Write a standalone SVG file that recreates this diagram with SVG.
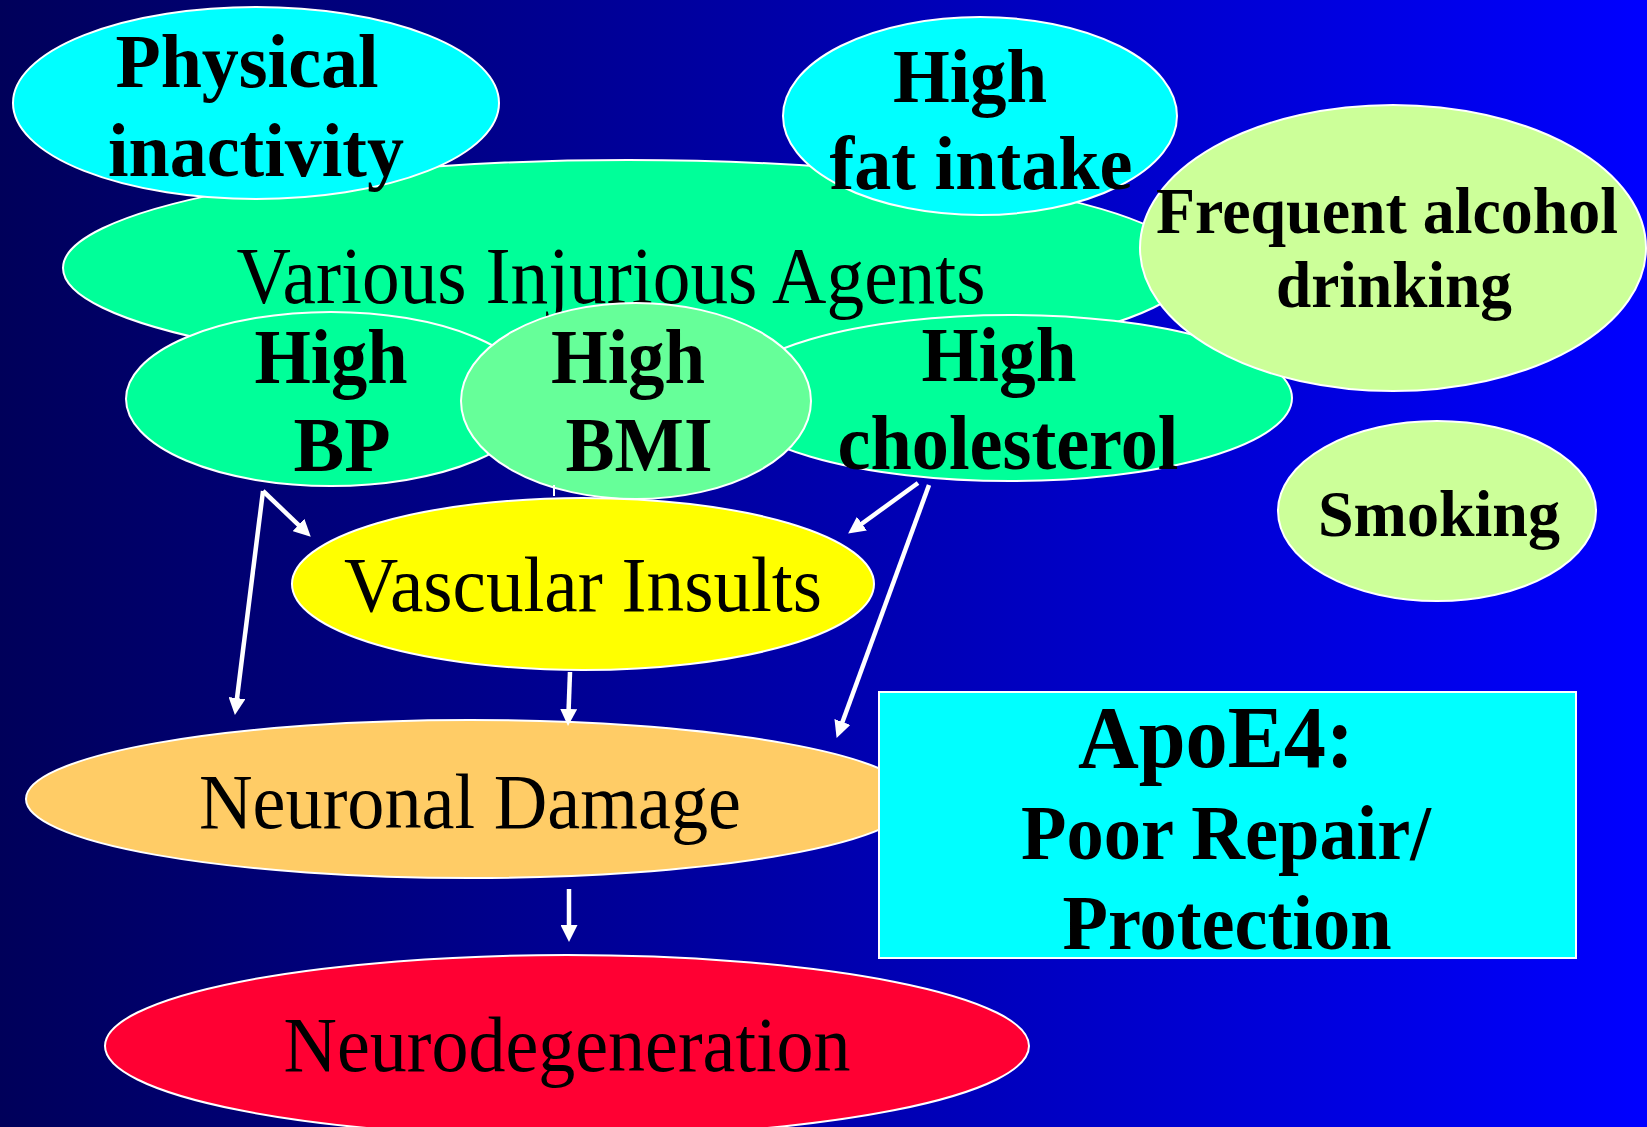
<svg xmlns="http://www.w3.org/2000/svg" width="1647" height="1127" viewBox="0 0 1647 1127">
<defs>
<linearGradient id="bg" x1="0" y1="0" x2="1" y2="0">
<stop offset="0" stop-color="#00005A"/>
<stop offset="1" stop-color="#0000FF"/>
</linearGradient>
<marker id="ah" markerUnits="userSpaceOnUse" markerWidth="17" markerHeight="17" refX="1" refY="8.5" orient="auto">
<path d="M0,0 L17,8.5 L0,17 z" fill="#FFFFFF"/>
</marker>
<style>
.n{stroke:#FFFFFF;stroke-width:2}
.b{font-family:"Liberation Serif","Times New Roman",serif;font-weight:bold;fill:#000;text-anchor:middle}
.r{font-family:"Liberation Serif","Times New Roman",serif;fill:#000;text-anchor:middle}
.c{stroke:#FFFFFF;stroke-width:4.5;fill:none;marker-end:url(#ah)}
</style>
</defs>
<rect x="0" y="0" width="1647" height="1127" fill="url(#bg)"/>

<g id="various">
<ellipse class="n" cx="628" cy="268" rx="565" ry="108" fill="#00FF99"/>
<text class="r" x="611" y="303" font-size="80" textLength="749" lengthAdjust="spacingAndGlyphs">Various Injurious Agents</text>
</g>
<g id="physical">
<ellipse class="n" cx="256" cy="103" rx="243" ry="96" fill="#00FFFF"/>
<text class="b" x="247" y="87" font-size="76" textLength="263" lengthAdjust="spacingAndGlyphs">Physical</text>
<text class="b" x="256" y="176" font-size="76" textLength="296" lengthAdjust="spacingAndGlyphs">inactivity</text>
</g>
<g id="fat">
<ellipse class="n" cx="980" cy="116" rx="197" ry="99" fill="#00FFFF"/>
<text class="b" x="970" y="102" font-size="76" textLength="154" lengthAdjust="spacingAndGlyphs">High</text>
<text class="b" x="981" y="189" font-size="76" textLength="303" lengthAdjust="spacingAndGlyphs">fat intake</text>
</g>
<g id="bp">
<ellipse class="n" cx="331" cy="399" rx="205" ry="87" fill="#00FF99"/>
<text class="b" x="331" y="383" font-size="78" textLength="153" lengthAdjust="spacingAndGlyphs">High</text>
<text class="b" x="342" y="471" font-size="78" textLength="97" lengthAdjust="spacingAndGlyphs">BP</text>
</g>
<g id="cholesterol">
<ellipse class="n" cx="1010" cy="398" rx="282" ry="83" fill="#00FF99"/>
<text class="b" x="999" y="381" font-size="78" textLength="155" lengthAdjust="spacingAndGlyphs">High</text>
<text class="b" x="1008" y="469" font-size="78" textLength="341" lengthAdjust="spacingAndGlyphs">cholesterol</text>
</g>
<g id="bmi">
<ellipse class="n" cx="636" cy="401" rx="175" ry="98" fill="#66FF99"/>
<text class="b" x="628" y="383" font-size="78" textLength="154" lengthAdjust="spacingAndGlyphs">High</text>
<text class="b" x="639" y="471" font-size="78" textLength="147" lengthAdjust="spacingAndGlyphs">BMI</text>
</g>
<g id="alcohol">
<ellipse class="n" cx="1393" cy="248" rx="253" ry="143" fill="#CCFF99"/>
<text class="b" x="1387" y="233" font-size="65" textLength="462" lengthAdjust="spacingAndGlyphs">Frequent alcohol</text>
<text class="b" x="1394" y="307" font-size="65" textLength="236" lengthAdjust="spacingAndGlyphs">drinking</text>
</g>
<g id="smoking">
<ellipse class="n" cx="1437" cy="511" rx="159" ry="90" fill="#CCFF99"/>
<text class="b" x="1439" y="536" font-size="65" textLength="242" lengthAdjust="spacingAndGlyphs">Smoking</text>
</g>
<g id="vascular">
<ellipse class="n" cx="583" cy="584" rx="291" ry="86" fill="#FFFF00"/>
<text class="r" x="583" y="611" font-size="78" textLength="478" lengthAdjust="spacingAndGlyphs">Vascular Insults</text>
</g>
<g id="neuronal">
<ellipse class="n" cx="470" cy="799" rx="444" ry="79" fill="#FFCC66"/>
<text class="r" x="470" y="828" font-size="78" textLength="542" lengthAdjust="spacingAndGlyphs">Neuronal Damage</text>
</g>
<g id="apoe4">
<rect class="n" x="879" y="692" width="697" height="266" fill="#00FFFF"/>
<text class="b" x="1216" y="767" font-size="88" textLength="276" lengthAdjust="spacingAndGlyphs">ApoE4:</text>
<text class="b" x="1226" y="859" font-size="78" textLength="410" lengthAdjust="spacingAndGlyphs">Poor Repair/</text>
<text class="b" x="1227" y="949" font-size="78" textLength="329" lengthAdjust="spacingAndGlyphs">Protection</text>
</g>
<g id="neurodegeneration">
<ellipse class="n" cx="567" cy="1046" rx="462" ry="91" fill="#FF0033"/>
<text class="r" x="567" y="1071" font-size="78" textLength="567" lengthAdjust="spacingAndGlyphs">Neurodegeneration</text>
</g>

<g id="connectors">
<line class="c" x1="263" y1="491" x2="236.9" y2="699.1"/>
<line class="c" x1="263" y1="491" x2="299.2" y2="525.6"/>
<line x1="554" y1="485" x2="554" y2="496" stroke="#FFFFFF" stroke-width="2"/>
<line class="c" x1="570" y1="672" x2="568.6" y2="710"/>
<line class="c" x1="918" y1="483" x2="861.1" y2="524.2"/>
<line class="c" x1="929" y1="485" x2="842.1" y2="722.9"/>
<line class="c" x1="569" y1="889" x2="569" y2="926"/>
</g>
</svg>
